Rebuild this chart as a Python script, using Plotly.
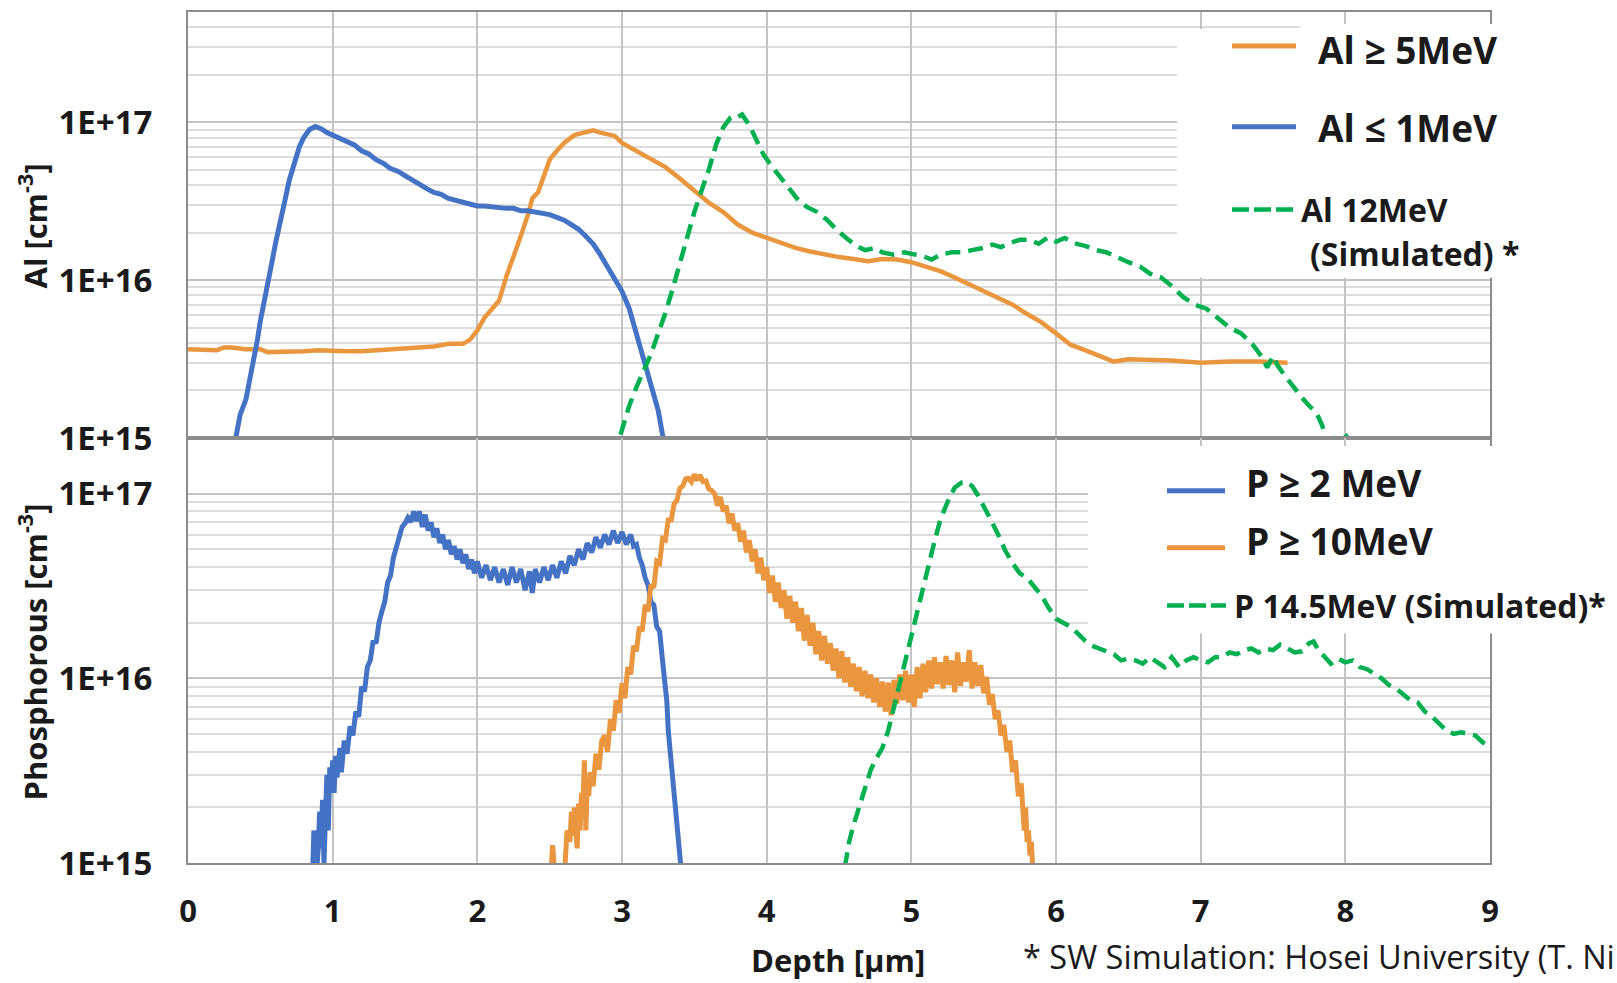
import math
import plotly.graph_objects as go

# ---------------- data ----------------
depth_ticks = [0, 1, 2, 3, 4, 5, 6, 7, 8, 9]
decade_vals = [1e15, 1e16, 1e17]
decade_text = ["1E+15", "1E+16", "1E+17"]

# Top panel: Al >= 5MeV
al5_x = [0.0, 0.1, 0.2, 0.25, 0.3, 0.4, 0.5, 0.55, 0.6, 0.7, 0.8, 0.9, 1.0, 1.1, 1.2, 1.3, 1.4, 1.5, 1.6, 1.7,
         1.8, 1.9, 1.95, 2.0, 2.05, 2.1, 2.15, 2.2, 2.25, 2.3, 2.35, 2.38, 2.42, 2.46, 2.5, 2.55, 2.6, 2.67,
         2.75, 2.8, 2.85, 2.9, 2.95, 3.0, 3.1, 3.2, 3.3, 3.4, 3.5, 3.6, 3.7, 3.8, 3.9, 4.0, 4.1, 4.2, 4.3,
         4.4, 4.5, 4.6, 4.7, 4.8, 4.9, 5.0, 5.1, 5.2, 5.3, 5.4, 5.5, 5.6, 5.7, 5.8, 5.9, 6.0, 6.1, 6.2,
         6.3, 6.4, 6.5, 6.6, 6.8, 7.0, 7.2, 7.4, 7.6]
al5_y = [3.65e15, 3.6e15, 3.6e15, 3.75e15, 3.75e15, 3.65e15, 3.65e15, 3.5e15, 3.5e15, 3.55e15, 3.55e15,
         3.6e15, 3.55e15, 3.55e15, 3.55e15, 3.6e15, 3.6e15, 3.7e15, 3.75e15, 3.8e15, 3.95e15, 3.95e15,
         4.2e15, 4.8e15, 5.8e15, 6.6e15, 7.4e15, 1.05e16, 1.45e16, 1.9e16, 2.6e16, 3.3e16, 3.6e16, 4.6e16,
         5.8e16, 6.6e16, 7.4e16, 8.3e16, 8.7e16, 8.9e16, 8.6e16, 8.4e16, 8.2e16, 7.4e16, 6.6e16, 5.9e16,
         5.2e16, 4.4e16, 3.7e16, 3.1e16, 2.7e16, 2.25e16, 2.0e16, 1.85e16, 1.7e16, 1.6e16, 1.52e16,
         1.45e16, 1.4e16, 1.36e16, 1.32e16, 1.36e16, 1.35e16, 1.3e16, 1.22e16, 1.14e16, 1.04e16, 9.4e15,
         8.6e15, 7.8e15, 7.0e15, 6.1e15, 5.4e15, 4.6e15, 3.9e15, 3.6e15, 3.3e15, 3.05e15, 3.15e15,
         3.15e15, 3.1e15, 3.0e15, 3.05e15, 3.05e15, 3.0e15]

# Top panel: Al <= 1MeV
al1_x = [0.33, 0.36, 0.40, 0.43, 0.45, 0.48, 0.50, 0.53, 0.56, 0.58, 0.61, 0.64, 0.67, 0.70, 0.74, 0.77,
         0.80, 0.84, 0.88, 0.92, 0.96, 1.0, 1.05, 1.1, 1.15, 1.2, 1.25, 1.3, 1.35, 1.4, 1.45, 1.5, 1.55,
         1.6, 1.65, 1.7, 1.75, 1.8, 1.85, 1.9, 1.95, 2.0, 2.05, 2.1, 2.15, 2.2, 2.25, 2.3, 2.35, 2.4,
         2.45, 2.5, 2.55, 2.6, 2.65, 2.7, 2.75, 2.8, 2.85, 2.9, 2.95, 3.0, 3.05, 3.1, 3.15, 3.2, 3.25,
         3.28, 3.3]
al1_y = [1.0e15, 1.4e15, 1.75e15, 2.4e15, 3.1e15, 4.2e15, 5.5e15, 7.4e15, 1.0e16, 1.3e16, 1.8e16, 2.5e16,
         3.2e16, 4.3e16, 5.8e16, 7.0e16, 8.0e16, 9.0e16, 9.4e16, 9.1e16, 8.6e16, 8.3e16, 7.9e16, 7.5e16,
         7.2e16, 6.6e16, 6.3e16, 5.8e16, 5.5e16, 5.1e16, 4.9e16, 4.6e16, 4.3e16, 4.1e16, 3.8e16, 3.6e16,
         3.5e16, 3.3e16, 3.2e16, 3.1e16, 3.05e16, 2.95e16, 2.95e16, 2.9e16, 2.9e16, 2.85e16, 2.85e16,
         2.75e16, 2.75e16, 2.7e16, 2.65e16, 2.6e16, 2.5e16, 2.4e16, 2.25e16, 2.1e16, 1.9e16, 1.7e16,
         1.45e16, 1.2e16, 1.0e16, 8.5e15, 6.6e15, 4.6e15, 3.2e15, 2.1e15, 1.5e15, 1.05e15, 9.0e14]

# Top panel: Al 12MeV (simulated)
al12_x = [2.99, 3.05, 3.1, 3.15, 3.2, 3.25, 3.3, 3.35, 3.4, 3.45, 3.5, 3.55, 3.6, 3.65, 3.7, 3.75, 3.78,
          3.8, 3.83, 3.88, 3.93, 3.98, 4.04, 4.1, 4.16, 4.22, 4.28, 4.35, 4.42, 4.48, 4.55, 4.62, 4.68,
          4.75, 4.8, 4.88, 4.95, 5.02, 5.08, 5.14, 5.2, 5.28, 5.35, 5.42, 5.5, 5.56, 5.62, 5.68, 5.75,
          5.82, 5.88, 5.94, 6.0, 6.06, 6.12, 6.2, 6.28, 6.35, 6.42, 6.5, 6.58, 6.65, 6.72, 6.8, 6.88,
          6.96, 7.04, 7.12, 7.2, 7.28, 7.36, 7.42, 7.46, 7.5, 7.53, 7.58, 7.64, 7.7, 7.75, 7.8, 7.84,
          7.87, 7.92, 7.96, 8.02]
al12_y = [1.05e15, 1.6e15, 2.1e15, 2.7e15, 3.4e15, 4.6e15, 6.2e15, 8.8e15, 1.3e16, 1.9e16, 2.7e16, 3.7e16,
          5.0e16, 7.2e16, 9.3e16, 1.07e17, 1.1e17, 1.08e17, 1.12e17, 9.6e16, 7.8e16, 6.2e16, 5.2e16, 4.4e16,
          3.7e16, 3.2e16, 2.9e16, 2.7e16, 2.4e16, 2.1e16, 1.85e16, 1.65e16, 1.55e16, 1.6e16, 1.5e16,
          1.45e16, 1.5e16, 1.45e16, 1.42e16, 1.35e16, 1.45e16, 1.5e16, 1.5e16, 1.55e16, 1.6e16, 1.68e16,
          1.62e16, 1.72e16, 1.8e16, 1.8e16, 1.7e16, 1.85e16, 1.75e16, 1.85e16, 1.72e16, 1.65e16, 1.55e16,
          1.5e16, 1.4e16, 1.3e16, 1.22e16, 1.1e16, 1.05e16, 9.2e15, 7.8e15, 7.0e15, 6.6e15, 5.8e15,
          5.0e15, 4.6e15, 3.9e15, 3.3e15, 2.8e15, 3.3e15, 2.9e15, 2.5e15, 2.1e15, 1.8e15, 1.6e15, 1.45e15,
          1.2e15, 9.5e14, 1.0e15, 9.5e14, 1.05e15]

# Bottom panel: P >= 2 MeV
p2_x = [0.86, 0.87, 0.88, 0.89, 0.90, 0.91, 0.92, 0.93, 0.94, 0.95, 0.96, 0.97, 0.98, 0.99, 1.00, 1.01,
        1.02, 1.03, 1.05, 1.06, 1.08, 1.10, 1.12, 1.14, 1.16, 1.18, 1.20, 1.22, 1.24, 1.26, 1.28, 1.30,
        1.32, 1.34, 1.36, 1.38, 1.40, 1.42, 1.44, 1.46, 1.48, 1.50, 1.52, 1.54, 1.56, 1.58, 1.60, 1.62,
        1.64, 1.66, 1.68, 1.70, 1.72, 1.74, 1.76, 1.78, 1.80, 1.82, 1.84, 1.86, 1.88, 1.90, 1.92, 1.94,
        1.96, 1.98, 2.00, 2.03, 2.06, 2.09, 2.12, 2.15, 2.18, 2.21, 2.24, 2.27, 2.30, 2.33, 2.36, 2.38,
        2.40, 2.43, 2.46, 2.49, 2.52, 2.55, 2.58, 2.61, 2.64, 2.67, 2.70, 2.73, 2.76, 2.79, 2.82, 2.85,
        2.88, 2.91, 2.94, 2.97, 3.00, 3.03, 3.06, 3.08, 3.10, 3.12, 3.14, 3.16, 3.18, 3.20, 3.22, 3.24,
        3.26, 3.28, 3.30, 3.31, 3.32, 3.33, 3.34, 3.35, 3.36, 3.37, 3.38, 3.39, 3.40, 3.41]
p2_y = [8.0e14, 1.5e15, 1.0e15, 9.0e14, 1.2e15, 1.9e15, 1.2e15, 2.2e15, 1.0e15, 2.5e15, 3.0e15, 1.5e15,
        3.3e15, 2.5e15, 3.6e15, 2.4e15, 3.8e15, 2.9e15, 4.2e15, 3.1e15, 4.6e15, 3.9e15, 5.5e15, 4.9e15,
        6.6e15, 6.2e15, 9.0e15, 8.5e15, 1.15e16, 1.25e16, 1.6e16, 1.55e16, 2.0e16, 2.3e16, 2.6e16, 3.3e16,
        3.6e16, 4.5e16, 5.2e16, 5.8e16, 6.6e16, 6.9e16, 7.4e16, 7.0e16, 8.0e16, 7.1e16, 8.0e16, 6.6e16,
        7.7e16, 6.3e16, 7.0e16, 5.8e16, 6.5e16, 5.4e16, 6.0e16, 5.0e16, 5.6e16, 4.7e16, 5.2e16, 4.4e16,
        5.0e16, 4.2e16, 4.7e16, 3.9e16, 4.4e16, 3.7e16, 4.3e16, 3.5e16, 4.1e16, 3.4e16, 4.0e16, 3.3e16,
        3.9e16, 3.2e16, 4.0e16, 3.3e16, 3.9e16, 3.0e16, 3.8e16, 2.9e16, 3.9e16, 3.3e16, 4.0e16, 3.4e16,
        4.1e16, 3.5e16, 4.3e16, 3.7e16, 4.6e16, 4.1e16, 5.0e16, 4.4e16, 5.4e16, 4.8e16, 5.8e16, 5.1e16,
        6.0e16, 5.3e16, 6.3e16, 5.4e16, 6.2e16, 5.3e16, 6.0e16, 5.2e16, 5.3e16, 4.5e16, 4.1e16, 3.5e16,
        3.2e16, 2.6e16, 2.5e16, 1.9e16, 1.8e16, 1.25e16, 9.5e15, 7.5e15, 5.2e15, 4.2e15, 3.6e15, 3.0e15,
        2.6e15, 2.1e15, 1.6e15, 1.3e15, 1.05e15, 9.0e14]

# Bottom panel: P >= 10MeV
p10_x = [2.51, 2.52, 2.54, 2.60, 2.62, 2.64, 2.65, 2.66, 2.67, 2.68, 2.69, 2.70, 2.71, 2.72, 2.73, 2.74,
         2.75, 2.76, 2.77, 2.78, 2.80, 2.82, 2.84, 2.86, 2.88, 2.90, 2.92, 2.94, 2.96, 2.98, 3.00, 3.02,
         3.04, 3.06, 3.08, 3.10, 3.12, 3.14, 3.16, 3.18, 3.20, 3.22, 3.24, 3.26, 3.28, 3.30, 3.32, 3.34,
         3.36, 3.38, 3.40, 3.42, 3.44, 3.46, 3.48, 3.50, 3.52, 3.54, 3.56, 3.58, 3.60, 3.62, 3.64, 3.66,
         3.68, 3.70, 3.72, 3.74, 3.76, 3.78, 3.80, 3.82, 3.84, 3.86, 3.88, 3.90, 3.92, 3.94, 3.96, 3.98,
         4.00, 4.02, 4.04, 4.06, 4.08, 4.10, 4.12, 4.14, 4.16, 4.18, 4.20, 4.22, 4.24, 4.26, 4.28, 4.30,
         4.32, 4.34, 4.36, 4.38, 4.40, 4.42, 4.44, 4.46, 4.48, 4.50, 4.52, 4.54, 4.56, 4.58, 4.60, 4.62,
         4.64, 4.66, 4.68, 4.70, 4.72, 4.74, 4.76, 4.78, 4.80, 4.82, 4.84, 4.86, 4.88, 4.90, 4.92, 4.94,
         4.96, 4.98, 5.00, 5.02, 5.04, 5.06, 5.08, 5.10, 5.12, 5.14, 5.16, 5.18, 5.20, 5.22, 5.24, 5.26,
         5.28, 5.30, 5.32, 5.34, 5.36, 5.38, 5.40, 5.42, 5.44, 5.46, 5.48, 5.50, 5.52, 5.54, 5.56, 5.58,
         5.60, 5.62, 5.64, 5.66, 5.68, 5.70, 5.72, 5.74, 5.76, 5.78, 5.79, 5.80, 5.81, 5.82, 5.83, 5.84]
p10_y = [9.0e14, 1.25e15, 8.0e14, 8.0e14, 1.5e15, 1.3e15, 1.9e15, 1.4e15, 2.0e15, 1.6e15, 1.2e15, 2.1e15,
         1.5e15, 2.4e15, 2.0e15, 3.6e15, 1.5e15, 2.7e15, 2.3e15, 3.1e15, 2.6e15, 3.9e15, 3.2e15, 4.6e15,
         4.9e15, 4.0e15, 6.0e15, 5.2e15, 7.6e15, 6.5e15, 9.4e15, 7.8e15, 1.15e16, 1.05e16, 1.5e16, 1.4e16,
         1.9e16, 1.8e16, 2.5e16, 2.3e16, 3.2e16, 3.1e16, 4.3e16, 4.2e16, 5.7e16, 5.6e16, 7.2e16, 7.2e16,
         8.8e16, 9.2e16, 1.07e17, 1.1e17, 1.2e17, 1.21e17, 1.16e17, 1.27e17, 1.18e17, 1.26e17, 1.16e17,
         1.17e17, 1.06e17, 1.04e17, 1.0e17, 8.6e16, 9.6e16, 8.0e16, 8.6e16, 6.9e16, 7.8e16, 6.3e16, 6.9e16,
         5.5e16, 6.3e16, 4.8e16, 5.6e16, 4.3e16, 5.0e16, 3.7e16, 4.5e16, 3.4e16, 4.0e16, 2.9e16, 3.6e16,
         2.6e16, 3.3e16, 2.4e16, 3.0e16, 2.1e16, 2.8e16, 2.0e16, 2.6e16, 1.8e16, 2.4e16, 1.6e16, 2.2e16,
         1.5e16, 2.0e16, 1.35e16, 1.8e16, 1.25e16, 1.7e16, 1.2e16, 1.55e16, 1.1e16, 1.45e16, 1.0e16,
         1.4e16, 9.5e15, 1.3e16, 9.0e15, 1.2e16, 8.5e15, 1.15e16, 8.0e15, 1.1e16, 7.8e15, 1.05e16, 7.4e15,
         1.0e16, 7.0e15, 9.6e15, 6.6e15, 9.5e15, 6.3e15, 9.8e15, 7.3e15, 1.05e16, 7.6e15, 1.1e16, 7.4e15,
         1.05e16, 7.0e15, 1.15e16, 7.8e15, 1.2e16, 8.4e15, 1.25e16, 8.8e15, 1.3e16, 9.3e15, 1.22e16,
         8.8e15, 1.32e16, 9.2e15, 1.25e16, 8.4e15, 1.38e16, 9.1e15, 1.22e16, 9.6e15, 1.42e16, 8.8e15,
         1.22e16, 9.1e15, 1.18e16, 8.3e15, 1.02e16, 7.2e15, 8.2e15, 6.0e15, 6.7e15, 4.9e15, 5.6e15,
         4.0e15, 4.6e15, 3.1e15, 3.6e15, 2.3e15, 2.7e15, 1.5e15, 2.0e15, 1.3e15, 1.5e15, 1.1e15, 1.3e15,
         9.0e14]

# Bottom panel: P 14.5MeV (simulated)
p14_x = [4.54, 4.57, 4.60, 4.64, 4.68, 4.72, 4.76, 4.80, 4.84, 4.88, 4.92, 4.96, 5.00, 5.04, 5.08, 5.12,
         5.16, 5.20, 5.25, 5.30, 5.35, 5.38, 5.42, 5.46, 5.50, 5.55, 5.60, 5.65, 5.70, 5.75, 5.80, 5.85,
         5.90, 5.95, 6.00, 6.05, 6.10, 6.15, 6.20, 6.25, 6.30, 6.35, 6.40, 6.45, 6.50, 6.55, 6.60, 6.65,
         6.70, 6.75, 6.80, 6.85, 6.90, 6.95, 7.00, 7.05, 7.10, 7.15, 7.20, 7.25, 7.30, 7.35, 7.40, 7.45,
         7.50, 7.55, 7.60, 7.65, 7.70, 7.75, 7.78, 7.82, 7.86, 7.90, 7.95, 8.00, 8.05, 8.10, 8.15, 8.20,
         8.25, 8.30, 8.35, 8.40, 8.45, 8.50, 8.55, 8.60, 8.65, 8.70, 8.75, 8.80, 8.85, 8.90, 8.95, 9.00]
p14_y = [9.5e14, 1.3e15, 1.6e15, 2.0e15, 2.6e15, 3.2e15, 3.7e15, 4.2e15, 5.2e15, 7.0e15, 9.2e15, 1.3e16,
         1.7e16, 2.3e16, 3.0e16, 4.2e16, 5.5e16, 7.2e16, 9.0e16, 1.08e17, 1.15e17, 1.16e17, 1.1e17, 9.8e16,
         8.6e16, 7.2e16, 6.0e16, 4.9e16, 4.2e16, 3.7e16, 3.5e16, 3.1e16, 2.8e16, 2.4e16, 2.1e16, 2.0e16,
         1.9e16, 1.75e16, 1.6e16, 1.5e16, 1.45e16, 1.4e16, 1.35e16, 1.25e16, 1.28e16, 1.25e16, 1.2e16,
         1.3e16, 1.22e16, 1.15e16, 1.3e16, 1.15e16, 1.25e16, 1.3e16, 1.25e16, 1.22e16, 1.3e16, 1.3e16,
         1.38e16, 1.35e16, 1.42e16, 1.45e16, 1.38e16, 1.45e16, 1.42e16, 1.52e16, 1.45e16, 1.38e16, 1.4e16,
         1.55e16, 1.58e16, 1.4e16, 1.3e16, 1.2e16, 1.28e16, 1.22e16, 1.25e16, 1.15e16, 1.12e16, 1.05e16,
         1.0e16, 9.2e15, 8.8e15, 8.2e15, 7.6e15, 7.4e15, 6.6e15, 6.2e15, 5.7e15, 5.2e15, 5.0e15, 5.1e15,
         5.0e15, 4.9e15, 4.5e15, 4.3e15]

top_names = ["Al \u2265 5MeV", "Al \u2264 1MeV", "Al 12MeV", "(Simulated) *"]
bottom_names = ["P \u2265 2 MeV", "P \u2265 10MeV", "P 14.5MeV (Simulated)*"]

# ---------------- style / layout helpers ----------------
BLUE = "#4472C4"
ORANGE = "#E9963F"
GREEN = "#00B050"
FONT = "Open Sans"
TXT = "#1a1a1a"

W, H = 1617, 983
L, R, T, B = 188, 127, 10, 120
PW, PH = W - L - R, H - T - B


def px(x):
    return (x - L) / PW


def py(y):
    return (H - B - y) / PH


split = py(437)

minor_vals = [m * d for d in [1e14, 1e15, 1e16, 1e17] for m in range(2, 10)]

fig = go.Figure()

fig.add_trace(go.Scatter(x=al5_x, y=al5_y, mode="lines", line=dict(color=ORANGE, width=4.5),
                         name=top_names[0], xaxis="x", yaxis="y"))
fig.add_trace(go.Scatter(x=al1_x, y=al1_y, mode="lines", line=dict(color=BLUE, width=5),
                         name=top_names[1], xaxis="x", yaxis="y"))
fig.add_trace(go.Scatter(x=al12_x, y=al12_y, mode="lines",
                         line=dict(color=GREEN, width=4.5, dash="15px,8px"),
                         name="Al 12MeV (Simulated)", xaxis="x", yaxis="y"))
fig.add_trace(go.Scatter(x=p2_x, y=p2_y, mode="lines", line=dict(color=BLUE, width=5),
                         name=bottom_names[0], xaxis="x2", yaxis="y2"))
fig.add_trace(go.Scatter(x=p10_x, y=p10_y, mode="lines", line=dict(color=ORANGE, width=5),
                         name=bottom_names[1], xaxis="x2", yaxis="y2"))
fig.add_trace(go.Scatter(x=p14_x, y=p14_y, mode="lines",
                         line=dict(color=GREEN, width=4.5, dash="15px,8px"),
                         name=bottom_names[2], xaxis="x2", yaxis="y2"))

GRID = "#c4c4c4"
MINOR = "#dddddd"
LINE = "#8c8c8c"

common_x = dict(range=[0, 9], tickvals=depth_ticks, showgrid=True, gridcolor=GRID, gridwidth=1.5,
                showline=True, linecolor=LINE, linewidth=2, mirror=True, zeroline=False, ticks="")
common_y = dict(type="log", tickvals=decade_vals, ticktext=decade_text, showgrid=True, gridcolor=GRID,
                gridwidth=1.5, showline=True, linecolor=LINE, linewidth=2, mirror=True, zeroline=False,
                ticks="", ticklabelstandoff=27,
                tickfont=dict(family=FONT, size=33, color=TXT, weight="bold"),
                minor=dict(tickvals=minor_vals, showgrid=True, gridcolor=MINOR, gridwidth=1.5, ticks=""))

fig.update_layout(
    width=W, height=H,
    margin=dict(l=L, r=R, t=T, b=B),
    paper_bgcolor="white", plot_bgcolor="white",
    showlegend=False,
    font=dict(family=FONT, color=TXT),
    xaxis=dict(common_x, domain=[0, 1], anchor="y", showticklabels=False),
    yaxis=dict(common_y, domain=[split, 1], range=[15, math.log10(5e17)]),
    xaxis2=dict(common_x, domain=[0, 1], anchor="y2", showticklabels=True,
                ticktext=[str(v) for v in depth_ticks], ticklabelstandoff=20,
                tickfont=dict(family=FONT, size=31, color=TXT, weight="bold")),
    yaxis2=dict(common_y, domain=[0, split], range=[15, math.log10(2e17)]),
)

shapes = []
# white legend backgrounds
shapes.append(dict(type="rect", xref="paper", yref="paper", x0=px(1177), x1=px(1617), y0=py(276), y1=py(27),
                   fillcolor="white", line=dict(width=0), layer="above"))
shapes.append(dict(type="rect", xref="paper", yref="paper", x0=px(1300), x1=px(1617), y0=py(276), y1=py(22),
                   fillcolor="white", line=dict(width=0), layer="above"))
shapes.append(dict(type="rect", xref="paper", yref="paper", x0=px(1088), x1=px(1617), y0=py(633), y1=py(445),
                   fillcolor="white", line=dict(width=0), layer="above"))


def sample(x0, x1, y, color, dash=None, width=5):
    ln = dict(color=color, width=width)
    if dash:
        ln["dash"] = dash
    return dict(type="line", xref="paper", yref="paper", x0=px(x0), x1=px(x1), y0=py(y), y1=py(y),
                line=ln, layer="above")


shapes.append(sample(1232, 1296, 44, ORANGE))
shapes.append(sample(1232, 1296, 125, BLUE))
shapes.append(sample(1232, 1293, 208, GREEN, "17px,5px", 4.5))
shapes.append(sample(1167, 1225, 490, BLUE))
shapes.append(sample(1167, 1225, 547, ORANGE))
shapes.append(sample(1167, 1226, 605, GREEN, "17px,5px", 4.5))
fig.update_layout(shapes=shapes)

ann = []


def text(x, y, s, size, bold=True, anchor="left", angle=0):
    ann.append(dict(xref="paper", yref="paper", x=px(x), y=py(y), text=s, showarrow=False,
                    xanchor=anchor, yanchor="middle", textangle=angle,
                    font=dict(family=FONT, size=size, color=TXT, weight="bold" if bold else "normal")))


text(1316, 48, top_names[0], 37)
text(1316, 126, top_names[1], 37)
text(1299, 208, top_names[2], 32)
text(1308, 252, top_names[3], 32)
text(1244, 482, bottom_names[0], 37)
text(1244, 540, bottom_names[1], 37)
text(1232, 605, bottom_names[2], 32)

text(33, 225, "Al [cm<sup>-3</sup>]", 31, anchor="center", angle=-90)
text(33, 652, "Phosphorous [cm<sup>-3</sup>]", 31, anchor="center", angle=-90)
text(838, 960, "Depth [\u00b5m]", 31, anchor="center")
text(1021, 957, "* SW Simulation: Hosei University (T. Ni", 32.5, bold=False)

fig.update_layout(annotations=ann)

fig.write_html("out.html")
